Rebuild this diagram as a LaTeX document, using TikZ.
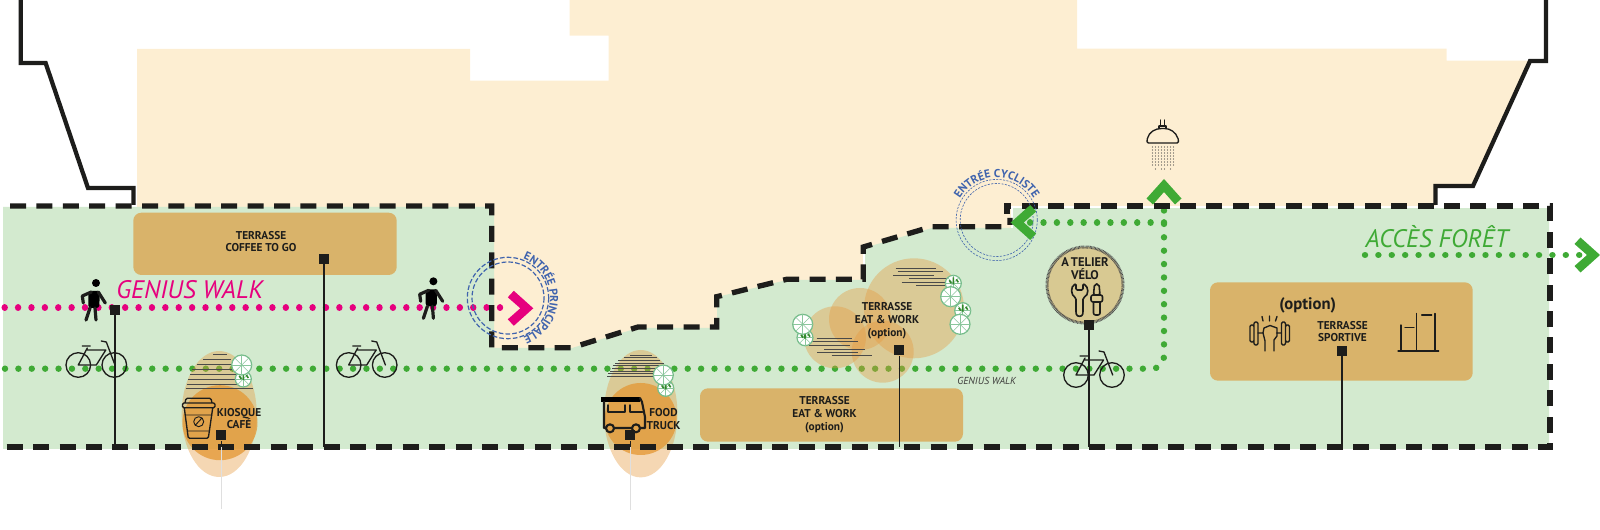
\documentclass[tikz,border=0pt]{standalone}
\usepackage{fontspec}
\setmainfont{PT Sans}
\usetikzlibrary{decorations.text}

\definecolor{beigezone}{RGB}{253,238,210}
\definecolor{greenzone}{RGB}{211,234,207}
\definecolor{terrassecol}{RGB}{217,179,106}
\definecolor{ochrecol}{RGB}{230,155,65}
\definecolor{innercol}{RGB}{228,150,50}
\definecolor{darkcol}{RGB}{29,29,27}
\definecolor{pinkcol}{RGB}{230,0,126}
\definecolor{walkgreen}{RGB}{63,170,53}
\definecolor{leafgreen}{RGB}{60,160,90}
\definecolor{entreeblue}{RGB}{63,99,173}
\definecolor{ateliercol}{RGB}{216,201,146}

\tikzset{
  every picture/.style={line width=0.75pt},
  every pic/.style={yscale=-1},
  limitdash/.style={draw=darkcol,line width=4pt,dash pattern=on 12pt off 7.8pt},
  walldraw/.style={draw=darkcol,line width=3.2pt,miter limit=4},
  pinkdots/.style={draw=pinkcol,line width=4.8pt,line cap=round,dash pattern=on 0.01pt off 10.03pt},
  greendots/.style={draw=walkgreen,line width=4.8pt,line cap=round,dash pattern=on 0.01pt off 10.03pt},
  terrassebox/.style={fill=terrassecol,rounded corners=6pt},
  halo/.style={fill=ochrecol,fill opacity=0.4},
  innerhalo/.style={fill=innercol,fill opacity=0.75},
  hatchline/.style={draw=darkcol!80,line width=0.55pt},
  marker/.style={fill=darkcol,minimum size=7.5pt,inner sep=0pt},
  leader/.style={draw=darkcol,line width=0.9pt},
  tailline/.style={draw=gray!25,line width=0.7pt},
  iconline/.style={draw=darkcol,line width=1pt,line cap=round,line join=round},
  lab/.style={text=darkcol,align=center,font=\fontsize{8.5}{9.6}\selectfont\bfseries,inner sep=0pt},
  walktitle/.style={font=\fontsize{19}{20}\selectfont\itshape,inner sep=0pt},
  chevron/.pic={\fill (0,0) -- (-19.5,-17.5) -- (-25.5,-11) -- (-13,0) -- (-25.5,11) -- (-19.5,17.5) -- cycle;},
  bike/.pic={
    \draw[iconline] (-18,0) circle[radius=12.3] (18,0) circle[radius=12.3];
    \draw[iconline] (-18,0) -- (-9,-17) (-18,0) -- (0,0) -- (9.5,-15) -- (-9,-15);
    \draw[iconline] (5,-24) -- (10,-23) -- (18.7,0) (-14,-19) -- (-6,-19);
  },
  walker/.pic={
    \fill (1.7,-17) circle[radius=4];
    \fill[rounded corners=2pt] (-6,-9) -- (5.5,-9) -- (5,8) -- (-6,8) -- cycle;
    \draw[line width=2.4pt,line cap=round,line join=round] (-4.3,8) -- (-8.3,20) (0.7,8) -- (1.7,20) (-3,-8) -- (-12,-4) -- (-11,3) (4,-8) -- (11,3);
  },
  tree/.pic={
    \draw[draw=leafgreen!70,fill=white,line width=0.9pt] (0,0) circle[radius=10];
    \foreach \a in {0,45,...,315}{\draw[leafgreen!60,line width=0.4pt] (0,0) -- (\a:10);}
  },
  treeleaf/.pic={
    \draw[draw=leafgreen!70,fill=white,line width=0.9pt] (0,0) circle[radius=8];
    \foreach \a in {0,45,...,315}{\draw[leafgreen!60,line width=0.4pt] (0,0) -- (\a:8);}
    \draw[walkgreen!80!black,line width=1.2pt] (-4,-3) -- (-2,0) (0,-6) -- (0,1) (3,-4) -- (5,-1);
  },
}

\begin{document}
\begin{tikzpicture}[x=0.75pt,y=0.75pt,yscale=-1,xscale=1]
\useasboundingbox (0,0) rectangle (1600,530);

%Building
\fill[beigezone] (137,400) -- (137,49) -- (470,49) -- (470,80.7) -- (608.6,80.7) -- (608.6,35.7) -- (569.7,35.7) -- (569.7,0) -- (1077,0) -- (1077,48.7) -- (1446.6,48.7) -- (1446.6,60.7) -- (1530,60.7) -- (1473,186) -- (1435.5,186) -- (1435.5,400) -- cycle;
%Green zone
\fill[greenzone] (3,207) -- (494,207) -- (494,348) -- (572,348) -- (638,328) -- (717,328) -- (717,297) -- (787,280) -- (864,280) -- (864,248) -- (932,228) -- (1012,228) -- (1012,208) -- (1549,208) -- (1549,449) -- (3,449) -- cycle;
\draw[white,line width=1.5pt] (864,250) -- (864,280) (1012,228) -- (1012,207.5) -- (1549,207.5);
%Wall
\draw[walldraw] (20.7,0) -- (20.7,63) -- (45.6,63) -- (88,188) -- (133.5,188) -- (133.5,205);
\draw[walldraw] (1546,0) -- (1546,61) -- (1530,61) -- (1473,186) -- (1435.5,186) -- (1435.5,205);

%Dotted walks
\draw[pinkdots] (4.7,307.7) -- (512,307.7);
\draw[greendots] (5,368.7) -- (1150,368.7) [rounded corners=9pt] -- (1164,368.7) -- (1164,198);
\draw[greendots] (1164,222.7) -- (1029,222.7);
\draw[greendots] (1365,255) -- (1582,255);

%Terrasses
\path[terrassebox] (133.3,212.7) rectangle (396.7,275);
\path[terrassebox] (700,388.3) rectangle (963,441.7);
\path[terrassebox] (1210,282.3) rectangle (1472.7,380.7);

%Kiosque halo
\path[halo] (219.2,414) ellipse[x radius=37.5,y radius=63];
\path[innerhalo] (220,422.7) circle[radius=37.5];
\foreach \y/\a/\b in {354/213/227,359/203/231,364/197/231,369/192/233,374/190/237,379/188/240,384/187/242,388/186/253}{
  \draw[hatchline] (\a,\y) -- (\b,\y);}
%Food truck halo
\path[halo] (640.7,413.7) ellipse[x radius=36.7,y radius=63.7];
\path[innerhalo] (640.7,419) circle[radius=36];
\foreach \y/\a/\b in {355/630/652,357.5/624/657,360/618/660,363/615/664,365.5/613/667,368/612/670,371/610/670,373.5/608/660,376/607/657}{
  \draw[hatchline] (\a,\y) -- (\b,\y);}
%Eat and work halos
\path[halo] (914,308.3) circle[radius=50];
\path[halo] (860,319) circle[radius=31];
\path[halo] (835,337.3) circle[radius=31];
\path[halo] (882.7,351.7) circle[radius=31];
\foreach \y/\a/\b in {268/895.7/936,271.3/897.7/942.7,275/893.3/934,278.7/909/950,282.3/901.7/948.3,285.7/916/956.7,338/816.7/851.7,341.3/810/857.7,345/809.3/850,349/824/865,352.3/817.3/858.3,355.7/831.7/872.3}{
  \draw[hatchline] (\a,\y) -- (\b,\y);}

%Trees
\pic at (243.3,379) {treeleaf};
\pic at (241.7,365) {tree};
\pic at (665.7,388.3) {treeleaf};
\pic at (663.3,375) {tree};
\pic at (805,337.7) {treeleaf};
\pic at (802.7,324.3) {tree};
\pic at (953.3,283.3) {treeleaf};
\pic at (950.7,296.7) {tree};
\pic at (962.7,310.7) {treeleaf};
\pic at (960,324.3) {tree};

%Limit dashed
\draw[limitdash] (10,206) -- (491.7,206) -- (491.7,347.7) -- (571.7,347.7) -- (638,327) -- (716.7,327) -- (716.7,296.7) -- (786.7,279.3) -- (863.3,279.3) -- (863.3,247) -- (931.7,226.7) -- (1010,226.7) -- (1010,218);
\draw[limitdash] (6.7,447) -- (1550,447) -- (1550,206) -- (1007,206) -- (1007,214);

%Entree principale
\coordinate (principale) at (508,298);
\draw[entreeblue,line width=0.9pt,dash pattern=on 3.5pt off 1.6pt] (principale) circle[radius=40.7] (principale) circle[radius=36];
\path[postaction={decorate},decoration={text along path,text align=center,text={|\fontsize{8.6}{9}\selectfont\bfseries\color{entreeblue}|ENTRÉE PRINCIPALE}}] (principale) ++(-75:42) arc[start angle=-75,end angle=75,radius=42];
%Entree cycliste
\coordinate (cycliste) at (996.7,220);
\draw[entreeblue,line width=0.45pt,dash pattern=on 1.6pt off 1pt] (cycliste) circle[radius=40.6] (cycliste) circle[radius=36.5];
\path[postaction={decorate},decoration={text along path,text align=center,text={|\fontsize{8.6}{9}\selectfont\bfseries\color{entreeblue}|ENTRÉE CYCLISTE}}] (cycliste) ++(-165:42.5) arc[start angle=-165,end angle=-15,radius=42.5];

%Chevrons
\pic[pinkcol] at (533.3,308.3) {chevron};
\pic[walkgreen,rotate=180] at (1010.7,222.5) {chevron};
\pic[walkgreen,rotate=90] at (1164,179) {chevron};
\pic[walkgreen] at (1600,255) {chevron};

%Walkers and bikes
\pic[darkcol,fill=black] at (94.3,300) {walker};
\pic[darkcol,fill=black] at (431.7,298.3) {walker};
\pic at (96.3,365) {bike};
\pic at (366.7,365) {bike};

%Atelier
\draw[draw=darkcol!80,fill=ateliercol,line width=2.2pt,dash pattern=on 0.5pt off 0.5pt] (1085,285) circle[radius=38];
\pic at (1094,375) {bike};

%Coffee cup
\draw[iconline,rounded corners=1pt] (185,403) -- (186,398.3) -- (211,398.3) -- (212,403) (182.5,403) rectangle (215,407.7) (184.3,408) -- (188.3,438.3) -- (208.3,438.3) -- (212.7,408);
\draw[iconline,line width=0.7pt] (185.3,415) -- (212,415) (187.5,431) -- (209,431) (198.7,421.7) circle[radius=5] (195.5,425) -- (202,418);
%Truck
\draw[draw=black,line width=3.2pt] (601,399.5) -- (640,399.5);
\draw[iconline,line width=1.6pt] (604,402) -- (604,428) -- (606,428) (614,428) -- (632,428) (640,428) -- (645,428) -- (645,417) -- (642,402) -- (640,398) (610,428.3) circle[radius=4] (636,428.3) circle[radius=4];
\draw[iconline,line width=1.1pt] (608,405) -- (608,412) -- (625,412) -- (625,405) (630,405) -- (630,412) -- (642.5,412);
%Shower
\draw[iconline,line width=0.8pt] (1160.5,120) -- (1160.5,126) (1164.5,120) -- (1164.5,126) (1159,126) -- (1166,126) -- (1166,129) (1159,126) -- (1159,129);
\draw[iconline,fill=beigezone,rounded corners=1pt] (1147,143) -- (1178.5,143) -- (1178.5,140) .. controls (1176,132) and (1170,128.5) .. (1163,128.5) .. controls (1155,128.5) and (1149,132) .. (1147,140) -- cycle;
\foreach \i in {0,...,7}{\foreach \j in {0,...,6}{\fill[darkcol!80] (1152.5+\i*3,147+\j*3) circle[radius=0.6];}}
\foreach \i in {1,3,4,6}{\fill[darkcol!80] (1152.5+\i*3,169) circle[radius=0.6];}
%Wrench and screwdriver
\draw[iconline,line width=1.2pt,rounded corners=1pt] (1076,283.5) .. controls (1070,287) and (1071,295) .. (1076,298) -- (1076,313) .. controls (1077,317) and (1082,317) .. (1083,313) -- (1083,298) .. controls (1089,295) and (1089,287) .. (1083,283.5) -- (1083,290) -- (1076,290) -- cycle;
\draw[iconline,line width=1.2pt,rounded corners=1.5pt] (1093.5,295) -- (1094.5,284) -- (1099,284) -- (1100,295) -- cycle (1091,295) rectangle (1102.5,302) (1093.5,302) -- (1093.5,315) -- (1100,315) -- (1100,302);
%Dumbbell
\draw[iconline,rounded corners=1pt] (1250,325) rectangle (1254,342) (1254,322) rectangle (1258,345) (1281.5,322) rectangle (1285.5,345) (1285.5,325) rectangle (1289.5,342);
\draw[iconline] (1258,333) -- (1263,333) (1276.5,333) -- (1281.5,333) (1263,333) -- (1264,328) -- (1270,325.5) -- (1277,328) -- (1277,336) -- (1274,340) -- (1274,351) (1263,333) -- (1265,341) -- (1265,351) (1262,316.5) -- (1263,321) (1269.5,316) -- (1269.5,321) (1277,316.5) -- (1275.5,321);
%Bars
\draw[iconline] (1398,351) -- (1438.7,351) (1401,351) -- (1401,325) (1416.7,351) -- (1416.7,313.5) (1435,351) -- (1435,313.5) (1405,327.7) -- (1414,327.7) (1421.7,315) -- (1431.7,315);

%Markers and leaders
\node[marker] (mWalk) at (115,310) {};
\node[marker] (mCoffee) at (324,259) {};
\node[marker] (mKiosque) at (221.3,435.3) {};
\node[marker] (mTruck) at (630.3,435.3) {};
\node[marker] (mEat) at (899.3,350.3) {};
\node[marker] (mAtelier) at (1089,325) {};
\node[marker] (mSport) at (1342,350.7) {};
\coordinate (bWalk) at (115,447);
\coordinate (bCoffee) at (324,447);
\coordinate (bKiosque) at (221.3,447);
\coordinate (bTruck) at (630.3,447);
\coordinate (bEat) at (899.3,447);
\coordinate (bAtelier) at (1089,447);
\coordinate (bSport) at (1342,447);
\coordinate (eKiosque) at (221.3,509);
\coordinate (eTruck) at (630.3,510);
\draw[leader] (mWalk) -- (bWalk);
\draw[leader] (mCoffee) -- (bCoffee);
\draw[leader] (mKiosque) -- (bKiosque);
\draw[leader] (mTruck) -- (bTruck);
\draw[leader] (mEat) -- (bEat);
\draw[leader] (mAtelier) -- (bAtelier);
\draw[leader] (mSport) -- (bSport);
\draw[tailline] (bKiosque) -- (eKiosque);
\draw[tailline] (bTruck) -- (eTruck);

%Labels
\node[walktitle,text=pinkcol] (genius) at (189.8,290) {GENIUS WALK};
\node[walktitle,text=walkgreen] (acces) at (1437,236.7) {ACCÈS FORÊT};
\node[text=darkcol!85,inner sep=0pt,font=\fontsize{7.6}{8}\selectfont\itshape] (geniussmall) at (986.7,381) {GENIUS WALK};
\node[lab] (lCoffee) at (261,241.5) {TERRASSE\\COFFEE TO GO};
\node[lab] (lKiosque) at (239,418.5) {KIOSQUE\\CAFÉ};
\node[lab] (lTruck) at (663.5,419) {FOOD\\TRUCK};
\node[lab] (lEatTop) at (887,320.5) {TERRASSE\\EAT \& WORK\\(option)};
\node[lab] (lEatBot) at (824.5,414.5) {TERRASSE\\EAT \& WORK\\(option)};
\node[lab,font=\fontsize{9.4}{9.8}\selectfont\bfseries] (lAtelier) at (1085,269) {A\,TELIER\\VÉLO};
\node[lab,font=\fontsize{12.5}{13}\selectfont\bfseries] (lOption) at (1307.7,305.5) {(option)};
\node[lab] (lSport) at (1342.5,331.5) {TERRASSE\\SPORTIVE};
\end{tikzpicture}
\end{document}
